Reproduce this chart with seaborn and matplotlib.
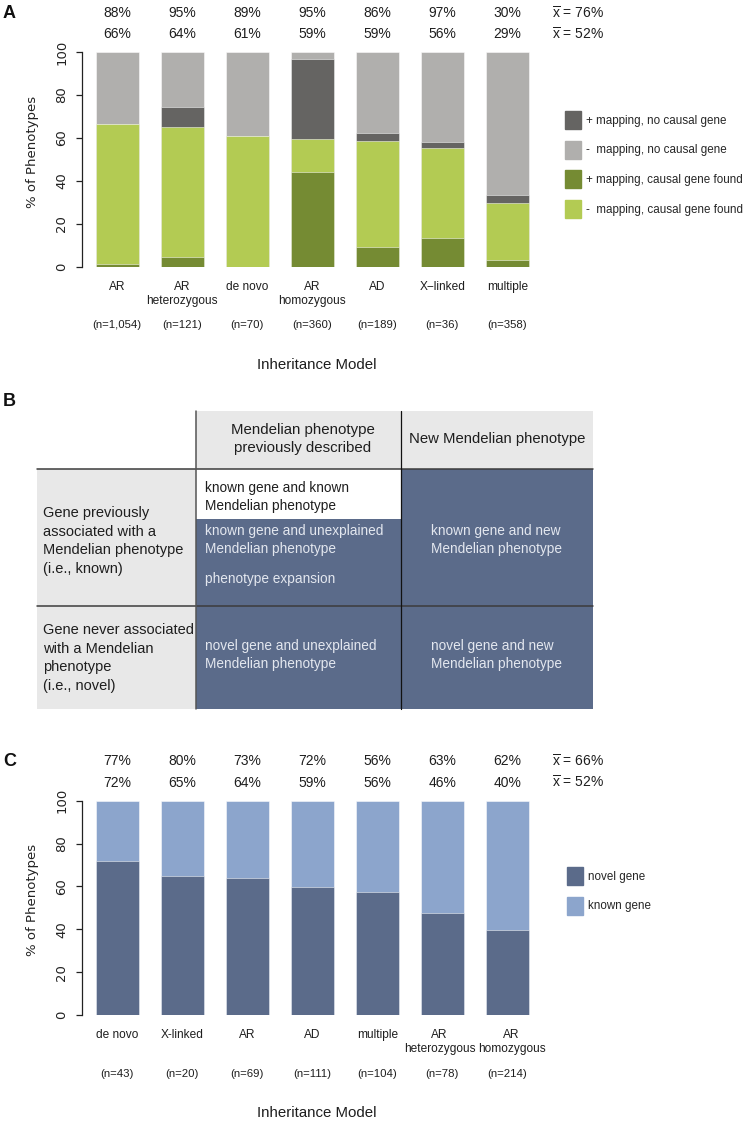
import matplotlib
matplotlib.use("Agg")
import pandas as pd
import seaborn as sns
import matplotlib.pyplot as plt
from matplotlib.patches import Patch, Rectangle
from matplotlib.transforms import blended_transform_factory, ScaledTranslation


# ==================== Data ====================

# ---------- Panel A
models_a = ["AR", "AR\nheterozygous", "de novo", "AR\nhomozygous", "AD", "X\u2212linked", "multiple"]
n_a = ["1,054", "121", "70", "360", "189", "36", "358"]
pos_causal_a = [1.6, 4.5, 0.0, 44.2, 9.3, 13.7, 3.1]
neg_causal_a = [64.8, 60.4, 61.1, 15.2, 49.2, 41.8, 26.6]
pos_nocausal_a = [0.0, 9.7, 0.0, 37.5, 3.7, 2.8, 3.9]
top_pct_a = [88, 95, 89, 95, 86, 97, 30]
low_pct_a = [66, 64, 61, 59, 59, 56, 29]
means_a = [76, 52]

# ---------- Panel C
models_c = ["de novo", "X-linked", "AR", "AD", "multiple", "AR\nheterozygous", "AR\nhomozygous"]
n_c = ["43", "20", "69", "111", "104", "78", "214"]
novel_c = [72.0, 65.0, 64.0, 59.7, 57.4, 47.4, 39.8]
top_pct_c = [77, 80, 73, 72, 56, 63, 62]
low_pct_c = [72, 65, 64, 59, 56, 46, 40]
means_c = [66, 52]

# ---------- Panel B (table)
col_heads = ["Mendelian phenotype\npreviously described", "New Mendelian phenotype"]
row_heads = ["Gene previously\nassociated with a\nMendelian phenotype\n(i.e., known)",
             "Gene never associated\nwith a Mendelian\nphenotype\n(i.e., novel)"]
known_known = "known gene and known\nMendelian phenotype"
known_unexpl = "known gene and unexplained\nMendelian phenotype"
expansion = "phenotype expansion"
known_new = "known gene and new\nMendelian phenotype"
novel_unexpl = "novel gene and unexplained\nMendelian phenotype"
novel_new = "novel gene and new\nMendelian phenotype"

# ---------- Colours
DGRAY, LGRAY = "#656462", "#b0afad"
DGREEN, LGREEN = "#758b33", "#b3cb53"
SLATE, LBLUE = "#5b6b8a", "#8ca5cc"
CELL = "#e8e8e8"
TXT = "#1e1e1e"

sns.set_theme(style="white")
SANS = ["Liberation Sans", "DejaVu Sans"]
plt.rcParams["font.family"] = SANS
plt.rcParams["mathtext.fontset"] = "custom"
plt.rcParams["mathtext.rm"] = "Liberation Sans"

W, H = 745, 1122
fig = plt.figure(figsize=(W / 100, H / 100), dpi=100)


def px_axes(left, top, right, bottom):
    return fig.add_axes([left / W, 1 - bottom / H, (right - left) / W, (bottom - top) / H])


def style_panel(ax, labels, ns, row1, row2, means, y1, y2, yn):
    ax.set_xlim(-0.54, 6.5)
    ax.set_ylim(0, 100)
    sns.despine(ax=ax, bottom=True)
    ax.spines["left"].set_linewidth(0.9)
    ax.spines["left"].set_color("#222222")
    ax.set_yticks(range(0, 101, 20))
    ax.set_yticklabels([str(v) for v in range(0, 101, 20)], family="DejaVu Sans",
                       fontsize=9.5, color="#222222", rotation=90, va="center")
    ax.tick_params(axis="y", left=True, length=4, width=0.9, pad=6, color="#222222")
    ax.set_xticks(range(len(labels)))
    ax.set_xticklabels(labels, fontsize=8.6, linespacing=1.25, color=TXT)
    ax.tick_params(axis="x", bottom=False, length=0, pad=10)
    ax.set_ylabel("% of Phenotypes", family="DejaVu Sans", fontsize=9.5, color="#222222", va="center")
    ax.yaxis.set_label_coords(-0.109, 0.535)
    ax.set_xlabel("Inheritance Model", fontsize=10.8, color=TXT, va="center")
    ax.xaxis.set_label_coords(0.513, -0.456)
    tr = blended_transform_factory(ax.transData, ax.transAxes)
    for i in range(len(labels)):
        ax.text(i, yn, f"(n={ns[i]})", ha="center", va="center", fontsize=8.2, color=TXT, transform=tr)
        ax.text(i, y1, f"{row1[i]}%", ha="center", va="center", fontsize=10, color=TXT, transform=tr)
        ax.text(i, y2, f"{row2[i]}%", ha="center", va="center", fontsize=10, color=TXT, transform=tr)
    for y, m in zip([y1, y2], means):
        ax.text(6.69, y, "$\\overline{\\mathrm{x}}$" + f" = {m}%", ha="left", va="center",
                fontsize=10, color=TXT, transform=tr)


def legend_at(ax, handles, x, y):
    ax.legend(handles=handles, loc="upper left", bbox_to_anchor=(x / W, 1 - y / H),
              bbox_transform=fig.transFigure, frameon=False, fontsize=8.4,
              handlelength=1.34, handleheight=2.0, labelspacing=1.0,
              handletextpad=0.5, borderpad=0, borderaxespad=0)


# ==================== Panel A ====================

df_a = pd.DataFrame({"model": models_a})
df_a["c1"] = pos_causal_a
df_a["c2"] = df_a["c1"] + neg_causal_a
df_a["c3"] = df_a["c2"] + pos_nocausal_a
df_a["c4"] = 100.0

ax_a = px_axes(82, 52, 540, 267)
for col, color in [("c4", LGRAY), ("c3", DGRAY), ("c2", LGREEN), ("c1", DGREEN)]:
    sns.barplot(df_a, x="model", y=col, order=models_a, color=color, saturation=1,
                width=0.66, errorbar=None, edgecolor=(1, 1, 1, 0.5), linewidth=0.7, ax=ax_a)
style_panel(ax_a, models_a, n_a, top_pct_a, low_pct_a, means_a, 1.181, 1.083, -0.272)
legend_at(ax_a, [Patch(color=DGRAY, label="+ mapping, no causal gene"),
                 Patch(color=LGRAY, label="-  mapping, no causal gene"),
                 Patch(color=DGREEN, label="+ mapping, causal gene found"),
                 Patch(color=LGREEN, label="-  mapping, causal gene found")], 565, 111)

# ==================== Panel C ====================

df_c = pd.DataFrame({"model": models_c, "novel": novel_c})
df_c["total"] = 100.0

ax_c = px_axes(82, 800.7, 540, 1015)
for col, color in [("total", LBLUE), ("novel", SLATE)]:
    sns.barplot(df_c, x="model", y=col, order=models_c, color=color, saturation=1,
                width=0.66, errorbar=None, edgecolor=(1, 1, 1, 0.5), linewidth=0.7, ax=ax_c)
style_panel(ax_c, models_c, n_c, top_pct_c, low_pct_c, means_c, 1.185, 1.083, -0.275)
legend_at(ax_c, [Patch(color=SLATE, label="novel gene"),
                 Patch(color=LBLUE, label="known gene")], 567, 867)

# nudge the two long neighbouring labels apart, as in the figure
ticks_c = ax_c.get_xticklabels()
ticks_c[5].set_transform(ticks_c[5].get_transform() + ScaledTranslation(-3 / 100, 0, fig.dpi_scale_trans))
ticks_c[6].set_transform(ticks_c[6].get_transform() + ScaledTranslation(4 / 100, 0, fig.dpi_scale_trans))

# ==================== Panel B (table) ====================

ax_b = fig.add_axes([0, 0, 1, 1], zorder=-1)
ax_b.set_xlim(0, W)
ax_b.set_ylim(H, 0)
ax_b.axis("off")

xs = [37, 196, 401, 593]
ys = [411, 469, 606, 709]
split = 519


def cell(x0, y0, x1, y1, color):
    ax_b.add_patch(Rectangle((x0, y0), x1 - x0, y1 - y0, facecolor=color, edgecolor="none"))


cell(xs[1], ys[0], xs[3], ys[1], CELL)
cell(xs[0], ys[1], xs[1], ys[3], CELL)
cell(xs[1], split, xs[2], ys[2], SLATE)
cell(xs[2], ys[1], xs[3], ys[3], SLATE)
cell(xs[1], ys[2], xs[2], ys[3], SLATE)
for y in ys[1:3]:
    ax_b.plot([xs[0], xs[3]], [y, y], color="#3c3c3c", lw=1.1)
ax_b.plot([xs[1], xs[1]], [ys[0], ys[3]], color="#555555", lw=1.1)
ax_b.plot([xs[2], xs[2]], [ys[0], ys[3]], color="#111111", lw=0.9)

LIGHT = "#e3e7ef"
ax_b.text(303, 439, col_heads[0], ha="center", va="center", fontsize=10.8, linespacing=1.3, color=TXT)
ax_b.text(497, 439, col_heads[1], ha="center", va="center", fontsize=10.7, color=TXT)
ax_b.text(43, 541, row_heads[0], ha="left", va="center", fontsize=10.5, linespacing=1.45, color=TXT)
ax_b.text(43, 658, row_heads[1], ha="left", va="center", fontsize=10.5, linespacing=1.45, color=TXT)
ax_b.text(205, 497, known_known, ha="left", va="center", fontsize=9.8, linespacing=1.35, color=TXT)
ax_b.text(205, 540, known_unexpl, ha="left", va="center", fontsize=9.8, linespacing=1.35, color=LIGHT)
ax_b.text(205, 579, expansion, ha="left", va="center", fontsize=9.8, color=LIGHT)
ax_b.text(431, 540, known_new, ha="left", va="center", fontsize=9.8, linespacing=1.35, color=LIGHT)
ax_b.text(205, 655, novel_unexpl, ha="left", va="center", fontsize=9.8, linespacing=1.35, color=LIGHT)
ax_b.text(431, 655, novel_new, ha="left", va="center", fontsize=9.8, linespacing=1.35, color=LIGHT)

# ---------- Panel letters
for letter, y in [("A", 13), ("B", 402), ("C", 762)]:
    fig.text(3 / W, 1 - y / H, letter, ha="left", va="center", fontsize=13, weight="bold", color="#111111")

fig.savefig("out.png", dpi=100)
